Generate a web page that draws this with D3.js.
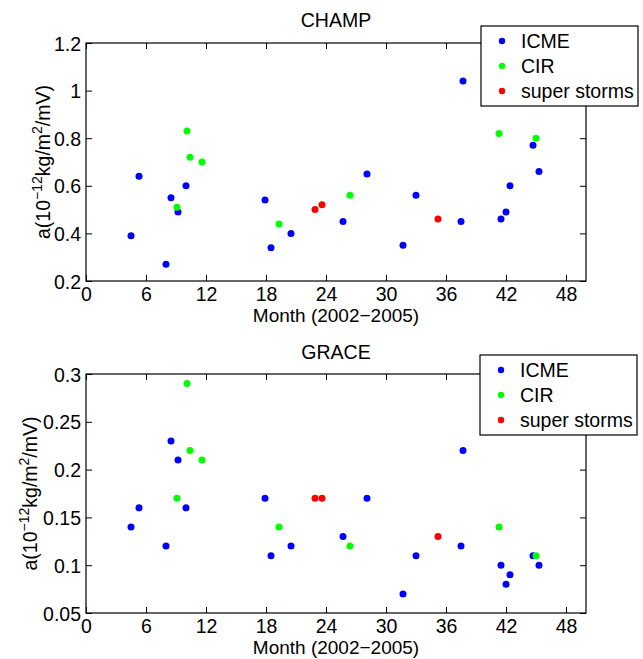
<!DOCTYPE html>
<html>
<head>
<meta charset="utf-8">
<script src="https://cdn.jsdelivr.net/npm/d3@7"></script>
<style>
  body { margin: 0; background: #fff; }
  svg text { font-family: "Liberation Sans", Arial, Helvetica, sans-serif; fill: #000; }
</style>
</head>
<body>
<svg id="chart" width="643" height="659"></svg>
<script>
// months since Jan 2002
const icmeMonth  = [4.5, 5.3, 8.0, 8.5, 9.2, 10.0, 17.9, 18.5, 20.5, 25.7, 28.1, 31.7, 33.0, 37.5, 37.7, 41.5, 42.0, 42.4, 44.7, 45.3];
const icmeChamp  = [0.39, 0.64, 0.27, 0.55, 0.49, 0.60, 0.54, 0.34, 0.40, 0.45, 0.65, 0.35, 0.56, 0.45, 1.04, 0.46, 0.49, 0.60, 0.77, 0.66];
const icmeGrace  = [0.14, 0.16, 0.12, 0.23, 0.21, 0.16, 0.17, 0.11, 0.12, 0.13, 0.17, 0.07, 0.11, 0.12, 0.22, 0.10, 0.08, 0.09, 0.11, 0.10];
const cirMonth   = [9.1, 10.1, 10.4, 11.6, 19.3, 26.4, 41.3, 45.0];
const cirChamp   = [0.51, 0.83, 0.72, 0.70, 0.44, 0.56, 0.82, 0.80];
const cirGrace   = [0.17, 0.29, 0.22, 0.21, 0.14, 0.12, 0.14, 0.11];
const superMonth = [22.9, 23.6, 35.2];
const superChamp = [0.50, 0.52, 0.46];
const superGrace = [0.17, 0.17, 0.13];

const monthTicks = [0, 6, 12, 18, 24, 30, 36, 42, 48];
const champTicks = [0.2, 0.4, 0.6, 0.8, 1, 1.2];
const graceTicks = [0.05, 0.1, 0.15, 0.2, 0.25, 0.3];
const legendNames = ["ICME", "CIR", "super storms"];
const colors = ["#0000ff", "#00ff00", "#ff0000"];

const FS = 19.5;
const left = 86, right = 586;
const svg = d3.select('#chart');

const panels = [
    {title: "CHAMP", top: 43, bottom: 281, domain: [0.2, 1.2], ticks: champTicks, titleY: 27, labelX: 50,
     series: [[icmeMonth, icmeChamp], [cirMonth, cirChamp], [superMonth, superChamp]], legend: {x: 481, y: 26}},
    {title: "GRACE", top: 374, bottom: 613, domain: [0.05, 0.3], ticks: graceTicks, titleY: 359, labelX: 37,
     series: [[icmeMonth, icmeGrace], [cirMonth, cirGrace], [superMonth, superGrace]], legend: {x: 480, y: 355}}
];

const x = d3.scaleLinear().domain([0, 50]).range([left, right]);

panels.forEach(p => {
    const y = d3.scaleLinear().domain(p.domain).range([p.bottom, p.top]);
    const g = svg.append('g');

    // ticks on all four sides, pointing inwards
    g.append('g').attr('transform', `translate(0,${p.bottom})`)
        .call(d3.axisBottom(x).tickValues(monthTicks).tickSizeInner(-6).tickSizeOuter(0).tickPadding(6).tickFormat(d => String(d)));
    g.append('g').attr('transform', `translate(0,${p.top})`)
        .call(d3.axisTop(x).tickValues(monthTicks).tickSizeInner(-6).tickSizeOuter(0).tickFormat(''));
    const ly = g.append('g').attr('transform', `translate(${left},0)`)
        .call(d3.axisLeft(y).tickValues(p.ticks).tickSizeInner(-6).tickSizeOuter(0).tickPadding(5).tickFormat(d => String(d)));
    g.append('g').attr('transform', `translate(${right},0)`)
        .call(d3.axisRight(y).tickValues(p.ticks).tickSizeInner(-6).tickSizeOuter(0).tickFormat(''));
    g.selectAll('.domain').remove();
    g.selectAll('.tick line').attr('stroke', '#000');
    g.selectAll('.tick text').attr('font-size', FS).attr('font-family', null);
    ly.selectAll('.tick text').attr('dy', '0.36em');

    g.append('rect')
        .attr('x', left).attr('y', p.top)
        .attr('width', right - left).attr('height', p.bottom - p.top)
        .attr('fill', 'none').attr('stroke', '#000').attr('stroke-width', 1.2);

    // points
    p.series.forEach((s, i) => {
        g.append('g').selectAll('circle')
            .data(s[0].map((m, k) => [m, s[1][k]]))
            .join('circle')
            .attr('cx', d => x(d[0]))
            .attr('cy', d => y(d[1]))
            .attr('r', 3.5)
            .attr('fill', colors[i]);
    });

    g.append('text')
        .attr('x', (left + right) / 2).attr('y', p.titleY)
        .attr('text-anchor', 'middle').attr('font-size', FS)
        .text(p.title);

    g.append('text')
        .attr('x', (left + right) / 2).attr('y', p.bottom + 41)
        .attr('text-anchor', 'middle').attr('font-size', 19)
        .text('Month (2002\u22122005)');

    const cy = (p.top + p.bottom) / 2;
    const yl = g.append('text')
        .attr('transform', `translate(${p.labelX},${cy}) rotate(-90)`)
        .attr('text-anchor', 'middle').attr('font-size', FS);
    yl.append('tspan').text('a(10');
    yl.append('tspan').attr('font-size', 14).attr('dy', -8).text('\u221212');
    yl.append('tspan').attr('dy', 8).text('kg/m');
    yl.append('tspan').attr('font-size', 14).attr('dy', -8).text('2');
    yl.append('tspan').attr('dy', 8).text('/mV)');

    // legend
    const lg = g.append('g').attr('transform', `translate(${p.legend.x},${p.legend.y})`);
    lg.append('rect').attr('width', 157).attr('height', 80)
        .attr('fill', '#fff').attr('stroke', '#000').attr('stroke-width', 1.2);
    legendNames.forEach((name, i) => {
        lg.append('circle').attr('cx', 21).attr('cy', 15 + i * 25).attr('r', 3.2).attr('fill', colors[i]);
        lg.append('text').attr('x', 40).attr('y', 15 + i * 25).attr('dy', '0.36em')
            .attr('font-size', FS).text(name);
    });
});
</script>
</body>
</html>
